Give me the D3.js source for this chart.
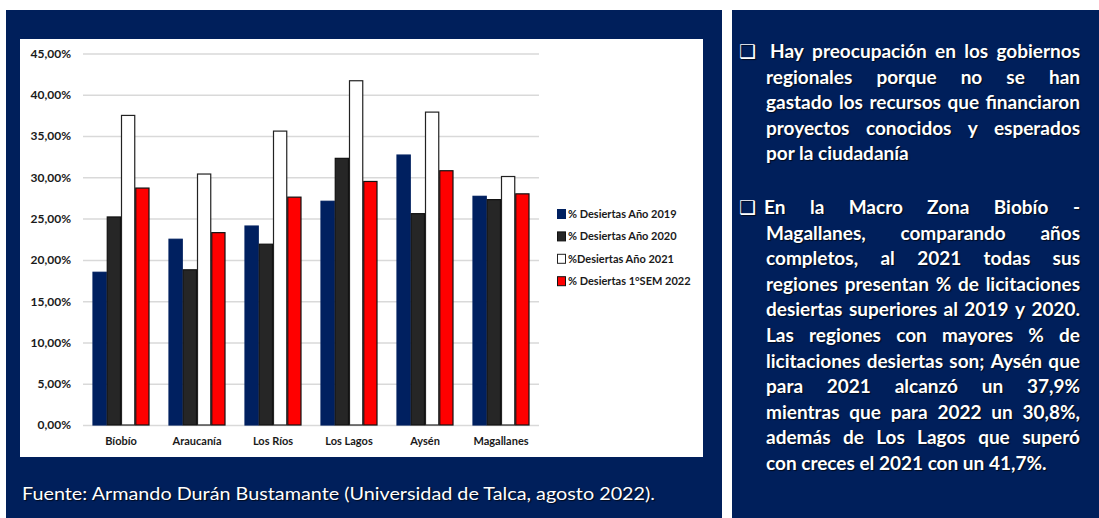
<!DOCTYPE html>
<html>
<head>
<meta charset="utf-8">
<script src="https://cdn.jsdelivr.net/npm/d3@7"></script>
<style>
  html, body { margin: 0; padding: 0; background: #fff; }
  svg { display: block; }
  .tick text { font-family: Lato, "Open Sans", sans-serif; }
  .panel-text { text-shadow: 1px 1px 1px rgba(0,0,0,0.7); }
</style>
</head>
<body>
<div id="chart"></div>
<script>
  // data
  var categories = ['Bíobío', 'Araucanía', 'Los Ríos', 'Los Lagos', 'Aysén', 'Magallanes'];
  var seriesNames = ['% Desiertas Año 2019', '% Desiertas Año 2020', '%Desiertas Año 2021', '% Desiertas 1°SEM 2022'];
  var v2019 = [18.5, 22.5, 24.1, 27.1, 32.7, 27.7];
  var v2020 = [25.2, 18.8, 21.9, 32.3, 25.6, 27.3];
  var v2021 = [37.5, 30.4, 35.6, 41.7, 37.9, 30.1];
  var v2022 = [28.7, 23.3, 27.6, 29.5, 30.8, 28.0];
  var yTicks = [0, 5, 10, 15, 20, 25, 30, 35, 40, 45];

  var seriesValues = [v2019, v2020, v2021, v2022];
  var fills = ['#002060', '#262626', '#ffffff', '#ff0000'];
  var strokes = ['#002060', '#111111', '#222222', '#111111'];

  var para1 = [
    'Hay preocupación en los gobiernos',
    'regionales porque no se han',
    'gastado los recursos que financiaron',
    'proyectos conocidos y esperados',
    'por la ciudadanía'
  ];
  var para2 = [
    'En la Macro Zona Biobío -',
    'Magallanes, comparando años',
    'completos, al 2021 todas sus',
    'regiones presentan % de licitaciones',
    'desiertas superiores al 2019 y 2020.',
    'Las regiones con mayores % de',
    'licitaciones desiertas son; Aysén que',
    'para 2021 alcanzó un 37,9%',
    'mientras que para 2022 un 30,8%,',
    'además de Los Lagos que superó',
    'con creces el 2021 con un 41,7%.'
  ];
  var source = 'Fuente: Armando Durán Bustamante (Universidad de Talca, agosto 2022).';

  var W = 1099, H = 518;
  var navy = '#001f5b';

  var svg = d3.select('#chart').append('svg')
    .attr('width', W)
    .attr('height', H);

  // panels
  svg.append('rect').attr('x', 6).attr('y', 10).attr('width', 716).attr('height', H - 10).attr('fill', navy);
  svg.append('rect').attr('x', 732).attr('y', 10).attr('width', W - 732).attr('height', H - 10).attr('fill', navy);
  svg.append('rect').attr('x', 20).attr('y', 39).attr('width', 683).attr('height', 418).attr('fill', '#ffffff');

  var plot = { left: 83, right: 539, top: 53.5, bottom: 425 };

  var x = d3.scaleBand().domain(categories)
    .range([plot.left, plot.right])
    .paddingInner(0.25).paddingOuter(0.125);
  var xs = d3.scaleBand().domain(d3.range(seriesNames.length)).range([0, x.bandwidth()]);
  var y = d3.scaleLinear().domain([0, 45]).range([plot.bottom, plot.top]);

  var locale = d3.formatLocale({ decimal: ',', thousands: '.', grouping: [3], currency: ['', '€'] });
  var fmt = locale.format('.2f');

  // Y axis with gridlines
  var yAxis = d3.axisLeft(y).tickValues(yTicks)
    .tickSize(-(plot.right - plot.left))
    .tickPadding(12)
    .tickFormat(function(d) { return fmt(d) + '%'; });

  var gy = svg.append('g')
    .attr('transform', 'translate(' + plot.left + ',0)')
    .call(yAxis);
  gy.select('.domain').remove();
  gy.selectAll('.tick line').attr('stroke', '#d9d9d9').attr('stroke-width', 1.5);
  gy.selectAll('.tick text')
    .attr('fill', '#1a1a1a')
    .style('font-size', '12px')
    .style('font-weight', 'bold');

  // X axis labels
  var gx = svg.append('g')
    .attr('transform', 'translate(0,' + plot.bottom + ')')
    .call(d3.axisBottom(x).tickSize(0).tickPadding(12));
  gx.select('.domain').remove();
  gx.selectAll('.tick text')
    .attr('fill', '#1a1a1a')
    .style('font-size', '11px')
    .style('font-weight', 'bold');

  // BARS
  var groups = svg.selectAll('.grp')
    .data(categories)
    .enter().append('g')
    .attr('class', 'grp')
    .attr('transform', function(d) { return 'translate(' + x(d) + ',0)'; });

  groups.selectAll('rect')
    .data(function(d, i) {
      return seriesValues.map(function(vals, s) { return { s: s, value: vals[i] }; });
    })
    .enter().append('rect')
    .attr('x', function(d) { return xs(d.s) + 0.5; })
    .attr('width', xs.bandwidth() - 1)
    .attr('y', function(d) { return y(d.value); })
    .attr('height', function(d) { return y(0) - y(d.value); })
    .attr('fill', function(d) { return fills[d.s]; })
    .attr('stroke', function(d) { return strokes[d.s]; })
    .attr('stroke-width', 1.2);

  // legend
  var legend = svg.append('g').attr('transform', 'translate(557,209)');
  var leg = legend.selectAll('g').data(seriesNames).enter().append('g')
    .attr('transform', function(d, i) { return 'translate(0,' + (i * 22.4) + ')'; });
  leg.append('rect')
    .attr('x', 0.5).attr('y', 0.5).attr('width', 8).attr('height', 9)
    .attr('fill', function(d, i) { return fills[i]; })
    .attr('stroke', function(d, i) { return strokes[i]; });
  leg.append('text')
    .attr('x', 11).attr('y', 9)
    .attr('fill', '#1a1a1a')
    .style('font-family', 'Lato, sans-serif')
    .style('font-size', '11px')
    .style('font-weight', 'bold')
    .text(function(d) { return d; });

  // source line
  svg.append('text')
    .attr('class', 'panel-text')
    .attr('x', 22).attr('y', 500)
    .attr('fill', '#ffffff')
    .attr('textLength', 633)
    .attr('lengthAdjust', 'spacingAndGlyphs')
    .style('font-family', 'Lato, sans-serif')
    .style('font-size', '18px')
    .text(source);

  // justified paragraph text on the right panel
  var textRight = 1080;
  var fontCss = 'Lato, sans-serif';
  function drawLine(str, x0, yb, justify) {
    var t = svg.append('text')
      .attr('class', 'panel-text')
      .attr('y', yb)
      .attr('fill', '#ffffff')
      .style('font-family', fontCss)
      .style('font-size', '19px')
      .style('font-weight', 'bold');
    var words = str.split(' ');
    if (!justify || words.length < 2) {
      t.attr('x', x0).text(str);
      return;
    }
    var spans = words.map(function(w) { return t.append('tspan').text(w); });
    var widths = spans.map(function(s) { return s.node().getComputedTextLength(); });
    var total = d3.sum(widths);
    var gap = (textRight - x0 - total) / (words.length - 1);
    if (gap < 3) {
      t.selectAll('tspan').remove();
      t.attr('x', x0).attr('textLength', textRight - x0)
        .attr('lengthAdjust', 'spacingAndGlyphs').text(str);
      return;
    }
    var cx = x0;
    spans.forEach(function(s, i) {
      s.attr('x', cx);
      cx += widths[i] + gap;
    });
  }

  function bullet(xb, yb) {
    svg.append('text')
      .attr('class', 'panel-text')
      .attr('x', xb).attr('y', yb)
      .attr('fill', '#ffffff')
      .style('font-family', 'DejaVu Sans, sans-serif')
      .style('font-size', '19px')
      .text('❑');
  }

  var lh = 25.6;
  bullet(739, 58);
  para1.forEach(function(line, i) {
    drawLine(line, i === 0 ? 770 : 766, 58 + i * lh, i < para1.length - 1);
  });
  bullet(739, 214);
  para2.forEach(function(line, i) {
    drawLine(line, i === 0 ? 764 : 766, 214 + i * lh, i < para2.length - 1);
  });
</script>
</body>
</html>
